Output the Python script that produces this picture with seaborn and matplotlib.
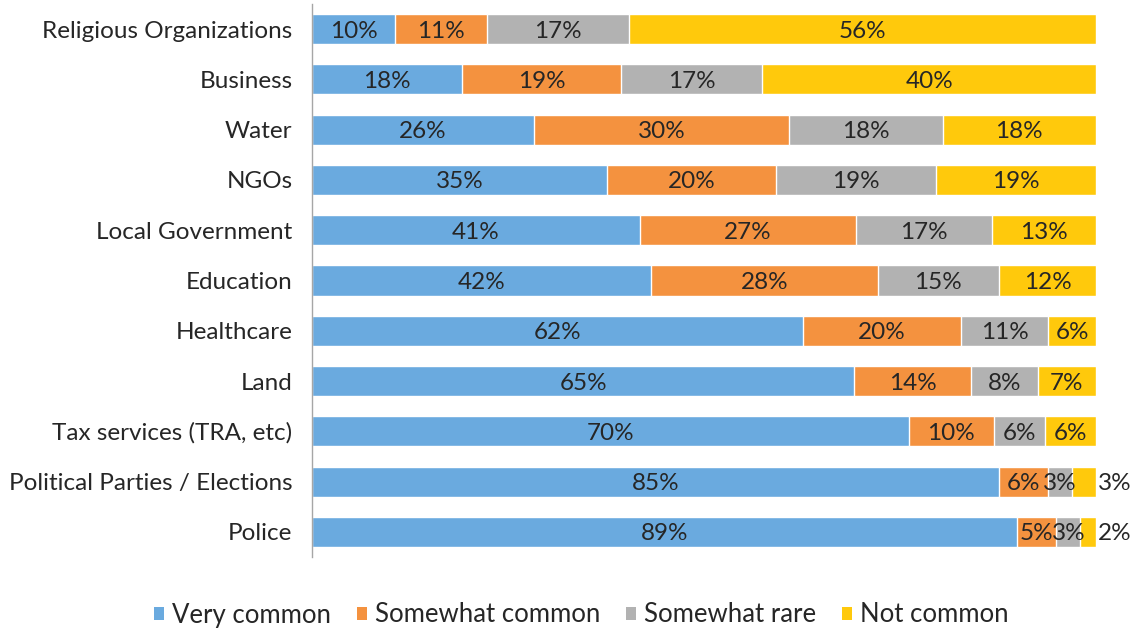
import matplotlib
matplotlib.use("Agg")
import matplotlib.pyplot as plt
from matplotlib.patches import Patch
import numpy as np
import pandas as pd
import seaborn as sns

categories = [
    "Religious Organizations", "Business", "Water", "NGOs", "Local Government",
    "Education", "Healthcare", "Land", "Tax services (TRA, etc)",
    "Political Parties / Elections", "Police",
]
very_common = [10, 18, 26, 35, 41, 42, 62, 65, 70, 85, 89]
somewhat_common = [11, 19, 30, 20, 27, 28, 20, 14, 10, 6, 5]
somewhat_rare = [17, 17, 18, 19, 17, 15, 11, 8, 6, 3, 3]
not_common = [56, 40, 18, 19, 13, 12, 6, 7, 6, 3, 2]

series_names = ["Very common", "Somewhat common", "Somewhat rare", "Not common"]
series_values = [very_common, somewhat_common, somewhat_rare, not_common]
colors = ["#6AAADF", "#F4923F", "#B2B2B2", "#FFC90C"]

sns.set_theme(style="white")
plt.rcParams["font.family"] = ["Lato", "DejaVu Sans"]
text_color = "#262626"
fs = 17.5

vals = np.array(series_values, dtype=float)           # shape (4, n)
shares = vals / vals.sum(axis=0) * 100                 # 100% stacked
cum = np.cumsum(shares, axis=0)

fig = plt.figure(figsize=(11.44, 6.30), dpi=100)
ax = fig.add_axes([312 / 1144, 1 - 557 / 630, (1096 - 312) / 1144, 553 / 630])

# Draw cumulative totals from the outermost segment inward so each layer shows its own slice
for i in reversed(range(len(series_names))):
    df = pd.DataFrame({"category": categories, "value": cum[i]})
    sns.barplot(data=df, y="category", x="value", orient="h", order=categories,
                color=colors[i], saturation=1, width=0.6, edgecolor="white",
                linewidth=1.0, ax=ax)

# Segment labels
for i in range(len(series_names)):
    for j, cat in enumerate(categories):
        left = cum[i][j] - shares[i][j]
        label = f"{series_values[i][j]}%"
        if i == 3 and series_values[i][j] <= 3:
            ax.text(cum[i][j] + 0.2, j, label, ha="left", va="center_baseline",
                    fontsize=fs, color=text_color)
        else:
            ax.text(left + shares[i][j] / 2, j, label, ha="center",
                    va="center_baseline", fontsize=fs, color=text_color)

ax.set_xlim(0, 100)
ax.set_ylim(len(categories) - 0.5, -0.5)
ax.set_xlabel("")
ax.set_ylabel("")
ax.set_xticks([])
ax.tick_params(axis="y", length=0, pad=14, labelsize=fs, labelcolor=text_color)
for side in ["top", "right", "bottom"]:
    ax.spines[side].set_visible(False)
ax.spines["left"].set_color("#A6A6A6")
ax.spines["left"].set_linewidth(1.0)

handles = [Patch(facecolor=c, edgecolor="none") for c in colors]
fig.legend(handles, series_names, loc="center", bbox_to_anchor=(0.508, 1 - 615 / 630),
           ncol=4, frameon=False, fontsize=18.5, handlelength=0.4, handleheight=0.4,
           handletextpad=0.3, columnspacing=1.0, labelcolor=text_color)

fig.savefig("out.png", dpi=100)
